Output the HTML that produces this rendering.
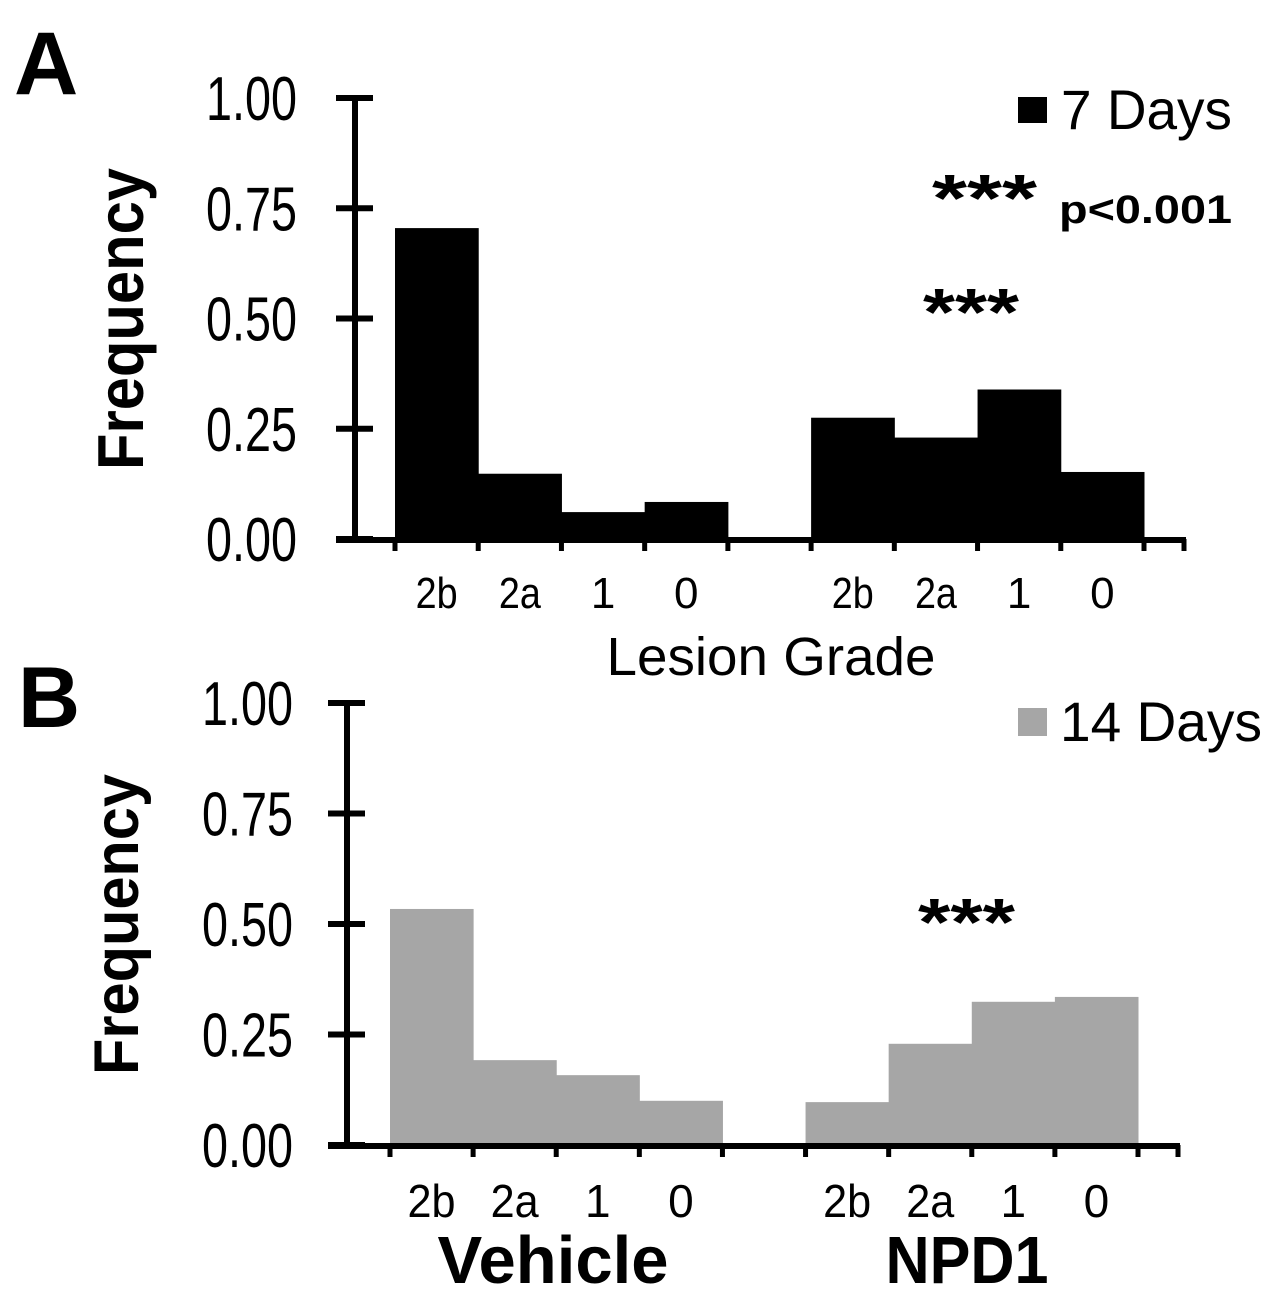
<!DOCTYPE html>
<html><head><meta charset="utf-8"><style>
html,body{margin:0;padding:0;background:#fff;}
svg{display:block;font-family:"Liberation Sans",Arial,sans-serif;}
</style></head><body>
<svg id="chart" width="1268" height="1302" viewBox="0 0 1268 1302" xmlns="http://www.w3.org/2000/svg">
<text x="14" y="94" font-size="89" font-weight="bold">A</text>
<text x="18" y="727" font-size="86" font-weight="bold">B</text>
<text transform="translate(143,470) rotate(-90)" font-size="65" font-weight="bold" textLength="302" lengthAdjust="spacingAndGlyphs">Frequency</text>
<text transform="translate(138,1075) rotate(-90)" font-size="63" font-weight="bold" textLength="301" lengthAdjust="spacingAndGlyphs">Frequency</text>
<rect x="1018" y="97" width="29" height="26" fill="#000"/>
<text x="1061" y="129" font-size="56" textLength="171" lengthAdjust="spacingAndGlyphs">7 Days</text>
<rect x="1018" y="708" width="29" height="28" fill="#a6a6a6"/>
<text x="1060" y="741" font-size="56" textLength="202" lengthAdjust="spacingAndGlyphs">14 Days</text>
<text x="932" y="221" font-size="67" font-weight="bold" textLength="105" lengthAdjust="spacingAndGlyphs">***</text>
<text x="1059" y="223" font-size="40" font-weight="bold" textLength="173" lengthAdjust="spacingAndGlyphs">p&lt;0.001</text>
<text x="923" y="335" font-size="67" font-weight="bold" textLength="96" lengthAdjust="spacingAndGlyphs">***</text>
<text x="918" y="945" font-size="67" font-weight="bold" textLength="97" lengthAdjust="spacingAndGlyphs">***</text>
<text x="771" y="675" font-size="54" text-anchor="middle" textLength="329" lengthAdjust="spacingAndGlyphs">Lesion Grade</text>
<text x="553" y="1283" font-size="67" font-weight="bold" text-anchor="middle" textLength="231" lengthAdjust="spacingAndGlyphs">Vehicle</text>
<text x="967" y="1283" font-size="67" font-weight="bold" text-anchor="middle" textLength="163" lengthAdjust="spacingAndGlyphs">NPD1</text>
</svg>
<script>
const categories = ["2b","2a","1","0","","2b","2a","1","0"];
const sevenDays = [0.705, 0.148, 0.061, 0.084, 0, 0.275, 0.23, 0.339, 0.152];
const fourteenDays = [0.534, 0.192, 0.158, 0.10, 0, 0.097, 0.229, 0.324, 0.335];
const yTicks = [0, 0.25, 0.5, 0.75, 1];
const yTickLabels = ["0.00","0.25","0.50","0.75","1.00"];

const NS = "http://www.w3.org/2000/svg";
const svg = document.getElementById("chart");
function mk(tag, attrs){ const e=document.createElementNS(NS,tag); for(const k in attrs) e.setAttribute(k,attrs[k]); svg.appendChild(e); return e; }

function panel(p){
  const y = v => p.y0 - v*(p.y0-p.y1);
  const slot = (p.xEnd - p.xStart)/categories.length;
  const x = i => p.xStart + i*slot;
  p.values.forEach((v,i)=>{
    if(v<=0) return;
    const r = mk("rect",{x:x(i),y:y(v),width:slot+0.5,height:p.y0-y(v),fill:p.color});
    
    
  });
  const ax = mk("line",{x1:p.ax,y1:y(1)-2,x2:p.ax,y2:p.y0,stroke:"#000","stroke-width":6});
  
  
  yTicks.forEach((t,i)=>{
    const tk = mk("line",{x1:p.ax-19,y1:y(t),x2:p.ax+18,y2:y(t),stroke:"#000","stroke-width":6});
    
    
    const tl = mk("text",{x:p.labR,y:y(t)+22,"font-size":62,"text-anchor":"end",textLength:91,lengthAdjust:"spacingAndGlyphs"});
    tl.textContent = yTickLabels[i];
    
    
  });
  const bx = mk("line",{x1:p.ax-19,y1:p.y0+1,x2:p.xEnd+42,y2:p.y0+1,stroke:"#000","stroke-width":6});
  
  
  for(let i=0;i<=categories.length;i++){
    const tk = mk("line",{x1:x(i),y1:p.y0,x2:x(i),y2:p.y0+12,stroke:"#000","stroke-width":5});
    
    
  }
  const ek = mk("line",{x1:p.xEnd+40,y1:p.y0,x2:p.xEnd+40,y2:p.y0+12,stroke:"#000","stroke-width":5});
  
  
  categories.forEach((c,i)=>{
    if(!c) return;
    const attrs = {x:x(i)+slot/2,y:p.labY,"font-size":p.labSize,"text-anchor":"middle"};
    if(c.length>1){ attrs.textLength = p.labW; attrs.lengthAdjust = "spacingAndGlyphs"; }
    const t = mk("text",attrs);
    t.textContent = c;
    
    
  });
}
panel({id:"a",values:sevenDays,color:"#000",y0:539,y1:98,ax:355,xStart:395,xEnd:1144,labR:297,labY:608,labSize:44,labW:42});
panel({id:"b",values:fourteenDays,color:"#a6a6a6",y0:1145,y1:703,ax:347,xStart:390,xEnd:1138,labR:293,labY:1217,labSize:46,labW:48});
</script>
</body></html>
